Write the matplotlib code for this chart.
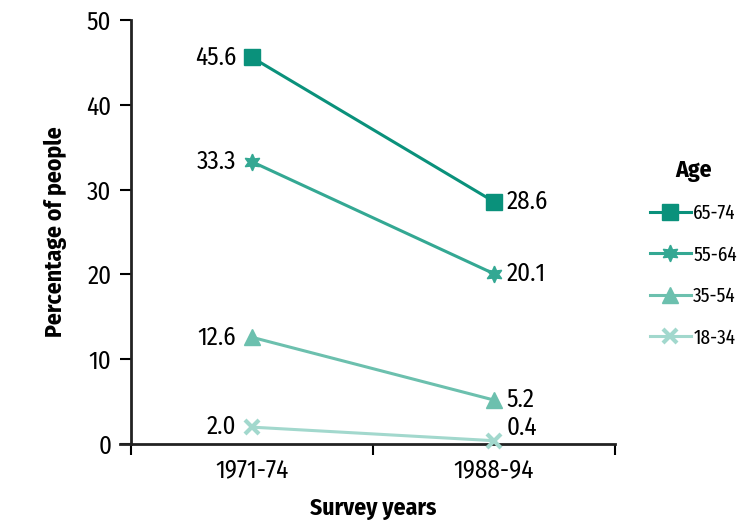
import matplotlib
matplotlib.use("Agg")
import matplotlib.pyplot as plt

# survey periods and age groups
periods = ["1971-74", "1988-94"]
ages = ["65-74", "55-64", "35-54", "18-34"]
pct_6574 = [45.6, 28.6]
pct_5564 = [33.3, 20.1]
pct_3554 = [12.6, 5.2]
pct_1834 = [2.0, 0.4]

series = [pct_6574, pct_5564, pct_3554, pct_1834]
colors = ["#0a917b", "#34a893", "#6cc0ae", "#a2d8cd"]
markers = ["s", (6, 1, 0), "^", "x"]

plt.rcParams["font.family"] = ["Fira Sans Condensed", "DejaVu Sans"]

fig = plt.figure(figsize=(7.56, 5.2), dpi=100)
ax = fig.add_axes([0.173, 0.146, 0.64, 0.8155])

xpos = [0.5, 1.5]
for vals, age, c, m in zip(series, ages, colors, markers):
    ax.plot(xpos, vals, color=c, lw=2.2, marker=m, ms=12 if m != "x" else 10,
            mew=3 if m == "x" else 1, label=age, clip_on=False, zorder=3)
    ax.annotate(f"{vals[0]:.1f}", (xpos[0], vals[0]), xytext=(-11, 0),
                textcoords="offset points", ha="right", va="center", fontsize=18)
    dy = 9 if vals[1] < 1 else 0
    ax.annotate(f"{vals[1]:.1f}", (xpos[1], vals[1]), xytext=(9, dy),
                textcoords="offset points", ha="left", va="center", fontsize=18)

ax.set_xlim(0, 2)
ax.set_ylim(0, 50)
ax.set_yticks(range(0, 51, 10))
ax.set_xticks([0, 1, 2])
ax.set_xticklabels([])
ax.set_xticks(xpos, minor=True)
ax.set_xticklabels(periods, minor=True)
ax.tick_params(axis="x", which="minor", length=0, labelsize=18, pad=10)
ax.tick_params(axis="x", which="major", length=8, width=1.5, direction="out")
ax.tick_params(axis="y", length=8, width=1.5, labelsize=18, pad=6)

for s in ["top", "right"]:
    ax.spines[s].set_visible(False)
for s in ["left", "bottom"]:
    ax.spines[s].set_linewidth(2)
    ax.spines[s].set_color("#222222")
ax.spines["bottom"].set_bounds(-0.045, 2)

ax.set_ylabel("Percentage of people", fontsize=17, fontweight="bold", labelpad=14)
ax.set_xlabel("Survey years", fontsize=17, fontweight="bold", labelpad=10)

leg = ax.legend(title="Age", loc="center left", bbox_to_anchor=(1.055, 0.45),
                frameon=False, handlelength=2.0, labelspacing=1.05,
                handletextpad=0.1, borderaxespad=0,
                prop={"family": ["Fira Sans Extra Condensed", "DejaVu Sans"], "size": 15})
leg.get_title().set_fontweight("bold")
leg.get_title().set_fontsize(17)

fig.savefig("out.png", dpi=100)
